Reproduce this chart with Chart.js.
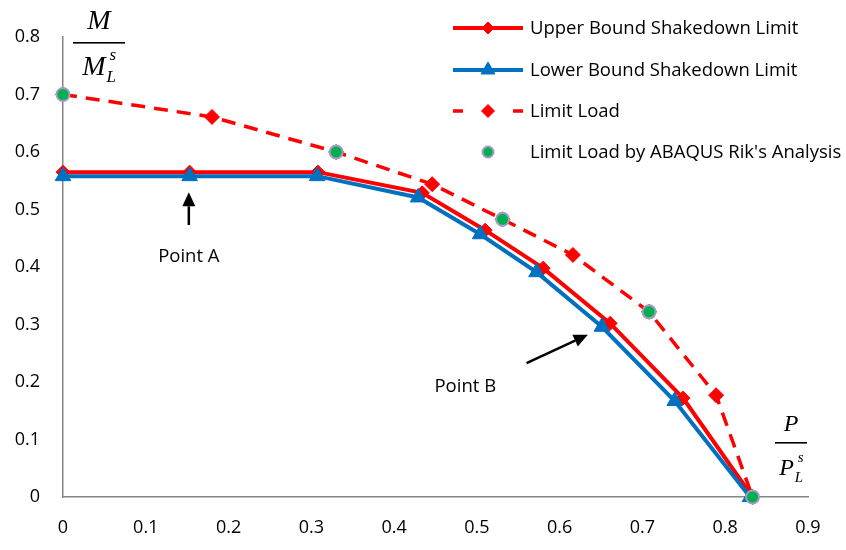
<!DOCTYPE html>
<html>
<head>
<meta charset="utf-8">
<script src="https://cdn.jsdelivr.net/npm/chart.js@4.4.0/dist/chart.umd.min.js"></script>
<style>
  html, body { margin: 0; padding: 0; background: #fff; }
</style>
</head>
<body>
<canvas id="chart" width="846" height="550"></canvas>
<script>
// Shakedown / limit load interaction: P/PL^s (x) against M/ML^s (y)
const upperX = [0, 0.153, 0.308, 0.434, 0.510, 0.580, 0.661, 0.749, 0.833];
const upperY = [0.565, 0.565, 0.565, 0.529, 0.464, 0.398, 0.302, 0.172, 0];
const lowerX = [0, 0.153, 0.307, 0.429, 0.504, 0.572, 0.651, 0.739, 0.830];
const lowerY = [0.558, 0.558, 0.558, 0.521, 0.457, 0.391, 0.296, 0.167, 0];
const limitX = [0, 0.180, 0.330, 0.446, 0.531, 0.616, 0.708, 0.789, 0.833];
const limitY = [0.700, 0.661, 0.600, 0.544, 0.483, 0.421, 0.322, 0.177, 0];
const abaqusX = [0, 0.330, 0.531, 0.708, 0.833];
const abaqusY = [0.700, 0.600, 0.483, 0.322, 0];

const xTickVals = [0, 0.1, 0.2, 0.3, 0.4, 0.5, 0.6, 0.7, 0.8, 0.9];
const xTickLabels = ['0', '0.1', '0.2', '0.3', '0.4', '0.5', '0.6', '0.7', '0.8', '0.9'];
const yTickVals = [0, 0.1, 0.2, 0.3, 0.4, 0.5, 0.6, 0.7, 0.8];
const yTickLabels = ['0', '0.1', '0.2', '0.3', '0.4', '0.5', '0.6', '0.7', '0.8'];

// arrow callouts, in data units
const callouts = [
  { text: 'Point A', tail: [0.152, 0.473], tip: [0.152, 0.530], label: [0.152, 0.417] },
  { text: 'Point B', tail: [0.560, 0.233], tip: [0.634, 0.282], label: [0.486, 0.191] }
];

const toPoints = (xs, ys) => xs.map((x, i) => ({ x: x, y: ys[i] }));

const RED = '#FF0000';
const BLUE = '#0070C0';
const GREEN = '#00B050';
const RIM = '#A39DC4';
const AXIS = '#868686';
const FONT = '"Open Sans", "Noto Sans", sans-serif';

// legend drawn by hand: line sample with marker in the middle
const legendPlugin = {
  id: 'sideLegend',
  afterDraw(chart) {
    const ctx = chart.ctx;
    const rows = [28, 70, 111, 152];
    const x0 = 453, x1 = 523, xm = 488, tx = 530;
    chart.data.datasets.forEach((ds, i) => {
      const y = rows[i];
      ctx.save();
      if (ds.showLine !== false) {
        ctx.strokeStyle = ds.borderColor;
        ctx.lineWidth = ds.borderWidth;
        ctx.beginPath();
        if (ds.borderDash) {
          ctx.moveTo(x0, y); ctx.lineTo(x0 + 10, y);
          ctx.moveTo(x1 - 10, y); ctx.lineTo(x1, y);
        } else {
          ctx.moveTo(x0, y); ctx.lineTo(x1, y);
        }
        ctx.stroke();
      }
      ctx.fillStyle = ds.pointBackgroundColor;
      ctx.strokeStyle = ds.pointBorderColor;
      ctx.lineWidth = ds.pointBorderWidth;
      Chart.helpers.drawPoint(ctx, {
        pointStyle: ds.pointStyle,
        radius: ds.pointRadius - 1,
        borderWidth: ds.pointBorderWidth,
        rotation: 0
      }, xm, y);
      ctx.fillStyle = '#000';
      ctx.font = '18.5px ' + FONT;
      ctx.textAlign = 'left';
      ctx.textBaseline = 'middle';
      ctx.fillText(ds.label, tx, y + 1);
      ctx.restore();
    });
  }
};

// arrows with "Point A" / "Point B" text
const calloutPlugin = {
  id: 'callouts',
  afterDatasetsDraw(chart) {
    const ctx = chart.ctx;
    const xs = chart.scales.x, ys = chart.scales.y;
    callouts.forEach(c => {
      const tx = xs.getPixelForValue(c.tail[0]), ty = ys.getPixelForValue(c.tail[1]);
      const hx = xs.getPixelForValue(c.tip[0]), hy = ys.getPixelForValue(c.tip[1]);
      const ang = Math.atan2(hy - ty, hx - tx);
      const head = 14, half = 6.5;
      const bx = hx - Math.cos(ang) * head, by = hy - Math.sin(ang) * head;
      ctx.save();
      ctx.strokeStyle = '#000';
      ctx.fillStyle = '#000';
      ctx.lineWidth = 2.5;
      ctx.beginPath();
      ctx.moveTo(tx, ty);
      ctx.lineTo(bx, by);
      ctx.stroke();
      ctx.beginPath();
      ctx.moveTo(hx, hy);
      ctx.lineTo(bx + Math.sin(ang) * half, by - Math.cos(ang) * half);
      ctx.lineTo(bx - Math.sin(ang) * half, by + Math.cos(ang) * half);
      ctx.closePath();
      ctx.fill();
      ctx.font = '18.5px ' + FONT;
      ctx.textAlign = 'center';
      ctx.textBaseline = 'middle';
      ctx.fillText(c.text, xs.getPixelForValue(c.label[0]), ys.getPixelForValue(c.label[1]));
      ctx.restore();
    });
  }
};

// axis titles as stacked fractions  M / M_L^s  and  P / P_L^s
const fractionPlugin = {
  id: 'fractions',
  afterDraw(chart) {
    const ctx = chart.ctx;
    const serif = '"Liberation Serif", "DejaVu Serif", serif';
    const frac = (sym, cx, numBase, barY, denBase, barHalf, big, small) => {
      ctx.save();
      ctx.fillStyle = '#000';
      ctx.textBaseline = 'alphabetic';
      ctx.font = 'italic ' + big + 'px ' + serif;
      ctx.textAlign = 'center';
      ctx.fillText(sym, cx, numBase);
      ctx.fillRect(cx - barHalf, barY, barHalf * 2, 1.6);
      const w = ctx.measureText(sym).width;
      const dx = cx - (w + small * 0.6) / 2;
      ctx.textAlign = 'left';
      ctx.fillText(sym, dx, denBase);
      ctx.font = 'italic ' + small + 'px ' + serif;
      ctx.fillText('s', dx + w + 4, denBase - big * 0.55);
      ctx.fillText('L', dx + w + 1, denBase + 7);
      ctx.restore();
    };
    frac('M', 99, 29, 42, 75, 26, 28, 17);
    frac('P', 791, 431, 442, 475, 16, 24, 15);
  }
};

const chart = new Chart(document.getElementById('chart'), {
  type: 'scatter',
  data: {
    datasets: [
      {
        label: 'Upper Bound Shakedown Limit',
        data: toPoints(upperX, upperY),
        showLine: true,
        borderColor: RED,
        borderWidth: 4,
        pointStyle: 'rectRot',
        pointRadius: 7,
        pointBackgroundColor: RED,
        pointBorderColor: RED,
        pointBorderWidth: 1,
        order: 3
      },
      {
        label: 'Lower Bound Shakedown Limit',
        data: toPoints(lowerX, lowerY),
        showLine: true,
        borderColor: BLUE,
        borderWidth: 4,
        pointStyle: 'triangle',
        pointRadius: 9,
        pointBackgroundColor: BLUE,
        pointBorderColor: BLUE,
        pointBorderWidth: 1,
        order: 2
      },
      {
        label: 'Limit Load',
        data: toPoints(limitX, limitY),
        showLine: true,
        borderColor: RED,
        borderWidth: 3.5,
        borderDash: [14, 9],
        pointStyle: 'rectRot',
        pointRadius: 7.5,
        pointBackgroundColor: RED,
        pointBorderColor: RED,
        pointBorderWidth: 1,
        order: 1
      },
      {
        label: "Limit Load by ABAQUS Rik's Analysis",
        data: toPoints(abaqusX, abaqusY),
        showLine: false,
        pointStyle: 'circle',
        pointRadius: 6.5,
        pointBackgroundColor: GREEN,
        pointBorderColor: RIM,
        pointBorderWidth: 2,
        order: 0
      }
    ]
  },
  options: {
    responsive: false,
    animation: false,
    devicePixelRatio: 1,
    clip: false,
    layout: { padding: { left: 0, right: 38, top: 37, bottom: 0 } },
    elements: { line: { tension: 0 } },
    plugins: {
      legend: { display: false },
      tooltip: { enabled: false }
    },
    scales: {
      x: {
        type: 'linear',
        min: 0,
        max: 0.9,
        grid: { display: false, drawTicks: false },
        border: { display: true, color: AXIS, width: 1.5 },
        afterBuildTicks: s => { s.ticks = xTickVals.map(v => ({ value: v })); },
        afterFit: s => { s.height = 53; },
        ticks: {
          padding: 20,
          color: '#000',
          font: { family: FONT, size: 18 },
          maxRotation: 0,
          callback: (v, i) => xTickLabels[i]
        }
      },
      y: {
        type: 'linear',
        min: 0,
        max: 0.8,
        grid: { display: false, drawTicks: false },
        border: { display: true, color: AXIS, width: 1.5 },
        afterBuildTicks: s => { s.ticks = yTickVals.map(v => ({ value: v })); },
        afterFit: s => { s.width = 63; },
        ticks: {
          padding: 23,
          color: '#000',
          font: { family: FONT, size: 18 },
          callback: (v, i) => yTickLabels[i]
        }
      }
    }
  },
  plugins: [calloutPlugin, legendPlugin, fractionPlugin]
});
</script>
</body>
</html>
